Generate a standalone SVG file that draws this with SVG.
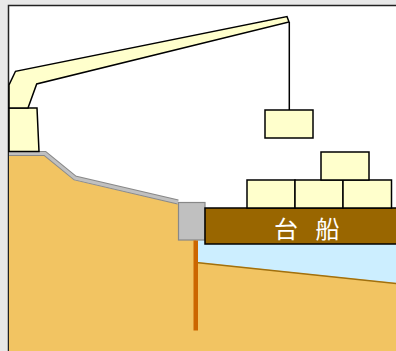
<svg xmlns="http://www.w3.org/2000/svg" width="396" height="351" viewBox="0 0 396 351">
  <style>
    .cargo { fill: #ffffcc; stroke: #000; stroke-width: 1.5; }
    .crane { fill: #ffffcc; stroke: #000; stroke-width: 1.5; stroke-linejoin: miter; }
    .paving { fill: none; stroke-linejoin: miter; }
    .label { font-family: "Noto Sans CJK JP", "Noto Sans CJK SC", sans-serif; font-size: 24px; fill: #fff; }
  </style>

  <!-- page background and frame -->
  <rect x="0" y="0" width="396" height="351" fill="#e8e8e8"/>
  <rect x="8.5" y="5.5" width="400" height="360" fill="#fff" stroke="#222" stroke-width="1.5"/>

  <g id="water">
    <polygon points="196,240 396,240 396,283 196,262" fill="#cceeff"/>
  </g>

  <g id="ground">
    <polygon points="9,155 44,155 74,180 178,204 178,240 196,240 196,262 396,283 396,351 9,351" fill="#f2c462"/>
    <line x1="196" y1="262.5" x2="396" y2="283.5" stroke="#a0700f" stroke-width="1.5"/>
  </g>

  <g id="paving">
    <polyline class="paving" points="9,153.5 45,153.5 75,178 178,202" stroke="#888" stroke-width="5"/>
    <polyline class="paving" points="9,153.5 45,153.5 75,178 178,202" stroke="#c0c0c0" stroke-width="3"/>
  </g>

  <g id="quay-wall">
    <rect x="178.5" y="202.5" width="26.5" height="37.5" fill="#c0c0c0" stroke="#888" stroke-width="1.2"/>
  </g>

  <g id="pile">
    <rect x="193.5" y="240.5" width="4.5" height="90" fill="#cc6600"/>
  </g>

  <g id="barge">
    <rect x="205" y="208" width="195" height="36" fill="#996600" stroke="#000" stroke-width="1.5"/>
    <text class="label" x="274" y="238" letter-spacing="6" xml:space="preserve">台 船</text>
  </g>

  <g id="cargo-stack">
    <rect class="cargo" x="247" y="180" width="48" height="28"/>
    <rect class="cargo" x="295" y="180" width="48" height="28"/>
    <rect class="cargo" x="343" y="180" width="48.5" height="28"/>
    <rect class="cargo" x="321" y="152" width="48" height="28"/>
  </g>

  <g id="crane">
    <polygon class="crane" points="9,108 37,108 39,151.5 9,151.5"/>
    <polygon class="crane" points="9,108 9,85 15.5,71.3 287,16.5 289,22 36.7,84 28,108"/>
  </g>

  <g id="connectors">
    <line x1="289.3" y1="22" x2="289.3" y2="110" stroke="#000" stroke-width="1.5"/>
  </g>

  <g id="hanging-load">
    <rect class="cargo" x="265" y="110" width="48" height="28"/>
  </g>
</svg>
